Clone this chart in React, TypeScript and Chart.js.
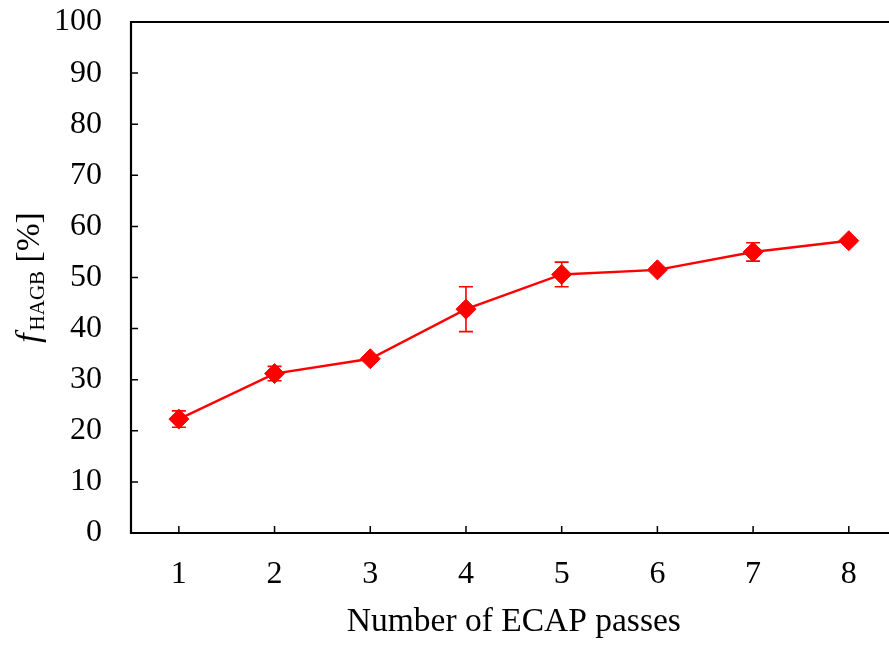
import React, { useEffect, useRef } from "react";
import { Chart, registerables } from "chart.js";

Chart.register(...registerables);

// Fraction of high-angle grain boundaries after each ECAP pass
const passes = [1, 2, 3, 4, 5, 6, 7, 8];
const fHagb = [22.3, 31.2, 34.1, 43.8, 50.6, 51.5, 55.0, 57.2];
const fHagbErr = [1.6, 1.4, 0.5, 4.4, 2.4, 0.5, 1.8, 0.5];
const yTickValues = [0, 10, 20, 30, 40, 50, 60, 70, 80, 90, 100];

const xTitle = "Number of ECAP passes";
const yTitleMain = "f";
const yTitleSub = "HAGB";
const yTitleUnit = " [%]";

const SERIF = '"Liberation Serif", "Times New Roman", Times, serif';
const RED = "#ff0000";
const TICK_SIZE = 32;
const TITLE_SIZE = 33.5;

// Error bars drawn underneath the markers
const errorBars = {
  id: "errorBars",
  beforeDatasetsDraw(chart: any) {
    const { ctx } = chart;
    const xs = chart.scales.x;
    const ys = chart.scales.y;
    ctx.save();
    ctx.strokeStyle = RED;
    ctx.lineWidth = 1.6;
    const cap = 7;
    passes.forEach((p, i) => {
      const x = xs.getPixelForValue(p);
      const yTop = ys.getPixelForValue(fHagb[i] + fHagbErr[i]);
      const yBot = ys.getPixelForValue(fHagb[i] - fHagbErr[i]);
      ctx.beginPath();
      ctx.moveTo(x, yTop);
      ctx.lineTo(x, yBot);
      ctx.moveTo(x - cap, yTop);
      ctx.lineTo(x + cap, yTop);
      ctx.moveTo(x - cap, yBot);
      ctx.lineTo(x + cap, yBot);
      ctx.stroke();
    });
    ctx.restore();
  },
};

// Axis frame, inward tick marks and titles
const frame = {
  id: "frame",
  afterDraw(chart: any) {
    const { ctx, chartArea, width } = chart;
    const xs = chart.scales.x;
    const ys = chart.scales.y;
    const left = chartArea.left;
    const top = chartArea.top;
    const bottom = chartArea.bottom;
    ctx.save();
    ctx.strokeStyle = "#000";
    ctx.lineWidth = 2.2;
    ctx.beginPath();
    ctx.moveTo(width, top);
    ctx.lineTo(left, top);
    ctx.lineTo(left, bottom);
    ctx.lineTo(width, bottom);
    ctx.stroke();

    ctx.lineWidth = 1.5;
    ctx.beginPath();
    yTickValues.forEach((v) => {
      const y = ys.getPixelForValue(v);
      ctx.moveTo(left, y);
      ctx.lineTo(left + 7, y);
    });
    passes.forEach((p) => {
      const x = xs.getPixelForValue(p);
      ctx.moveTo(x, bottom);
      ctx.lineTo(x, bottom - 7);
    });
    ctx.stroke();

    // x title
    ctx.fillStyle = "#000";
    ctx.font = `${TITLE_SIZE}px ${SERIF}`;
    ctx.textAlign = "center";
    ctx.textBaseline = "alphabetic";
    ctx.fillText(xTitle, xs.getPixelForValue(4.5), 631);

    // y title, rotated
    const mainFont = `italic ${TITLE_SIZE}px ${SERIF}`;
    const subFont = `21px ${SERIF}`;
    const unitFont = `${TITLE_SIZE}px ${SERIF}`;
    ctx.font = mainFont;
    const wF = ctx.measureText(yTitleMain).width;
    ctx.font = subFont;
    const wS = ctx.measureText(yTitleSub).width;
    ctx.font = unitFont;
    const wU = ctx.measureText(yTitleUnit).width;
    const total = wF + 3 + wS + wU;
    const cy = ys.getPixelForValue(50);
    ctx.translate(39, cy);
    ctx.rotate(-Math.PI / 2);
    ctx.textAlign = "left";
    let u = -total / 2;
    ctx.font = mainFont;
    ctx.fillText(yTitleMain, u, 0);
    u += wF + 3;
    ctx.font = subFont;
    ctx.fillText(yTitleSub, u, 5);
    u += wS;
    ctx.font = unitFont;
    ctx.fillText(yTitleUnit, u, 0);
    ctx.restore();
  },
};

export default function App() {
  const canvasRef = useRef<HTMLCanvasElement | null>(null);

  useEffect(() => {
    const canvas = canvasRef.current;
    if (!canvas) return;
    const chart = new Chart(canvas, {
      type: "line",
      data: {
        datasets: [
          {
            data: passes.map((p, i) => ({ x: p, y: fHagb[i] })),
            borderColor: RED,
            backgroundColor: RED,
            borderWidth: 2.4,
            pointStyle: "rectRot",
            pointRadius: 10,
            pointBorderWidth: 1,
            pointBackgroundColor: RED,
            pointBorderColor: RED,
            tension: 0,
          },
        ],
      },
      options: {
        responsive: false,
        animation: false,
        events: [],
        layout: { autoPadding: false, padding: { top: 22, right: 0, left: 0, bottom: 0 } },
        plugins: {
          legend: { display: false },
          tooltip: { enabled: false },
        },
        scales: {
          x: {
            type: "linear",
            min: 0.5,
            max: 8.42,
            grid: { display: false, drawTicks: false },
            border: { display: false },
            afterBuildTicks: (scale: any) => {
              scale.ticks = passes.map((v) => ({ value: v }));
            },
            afterFit: (scale: any) => {
              scale.height = 113;
              scale.paddingLeft = 0;
              scale.paddingRight = 0;
            },
            ticks: {
              font: { family: SERIF, size: TICK_SIZE },
              color: "#000",
              padding: 22,
              maxRotation: 0,
            },
          },
          y: {
            type: "linear",
            min: 0,
            max: 100,
            grid: { display: false, drawTicks: false },
            border: { display: false },
            afterBuildTicks: (scale: any) => {
              scale.ticks = yTickValues.map((v) => ({ value: v }));
            },
            afterFit: (scale: any) => {
              scale.width = 131;
              scale.paddingTop = 0;
              scale.paddingBottom = 0;
            },
            ticks: {
              font: { family: SERIF, size: TICK_SIZE },
              color: "#000",
              padding: 29,
            },
          },
        },
      },
      plugins: [errorBars, frame],
    });
    return () => chart.destroy();
  }, []);

  return (
    <div style={{ position: "fixed", left: 0, top: 0, width: 889, height: 646, background: "#fff" }}>
      <canvas ref={canvasRef} width={889} height={646} />
    </div>
  );
}
